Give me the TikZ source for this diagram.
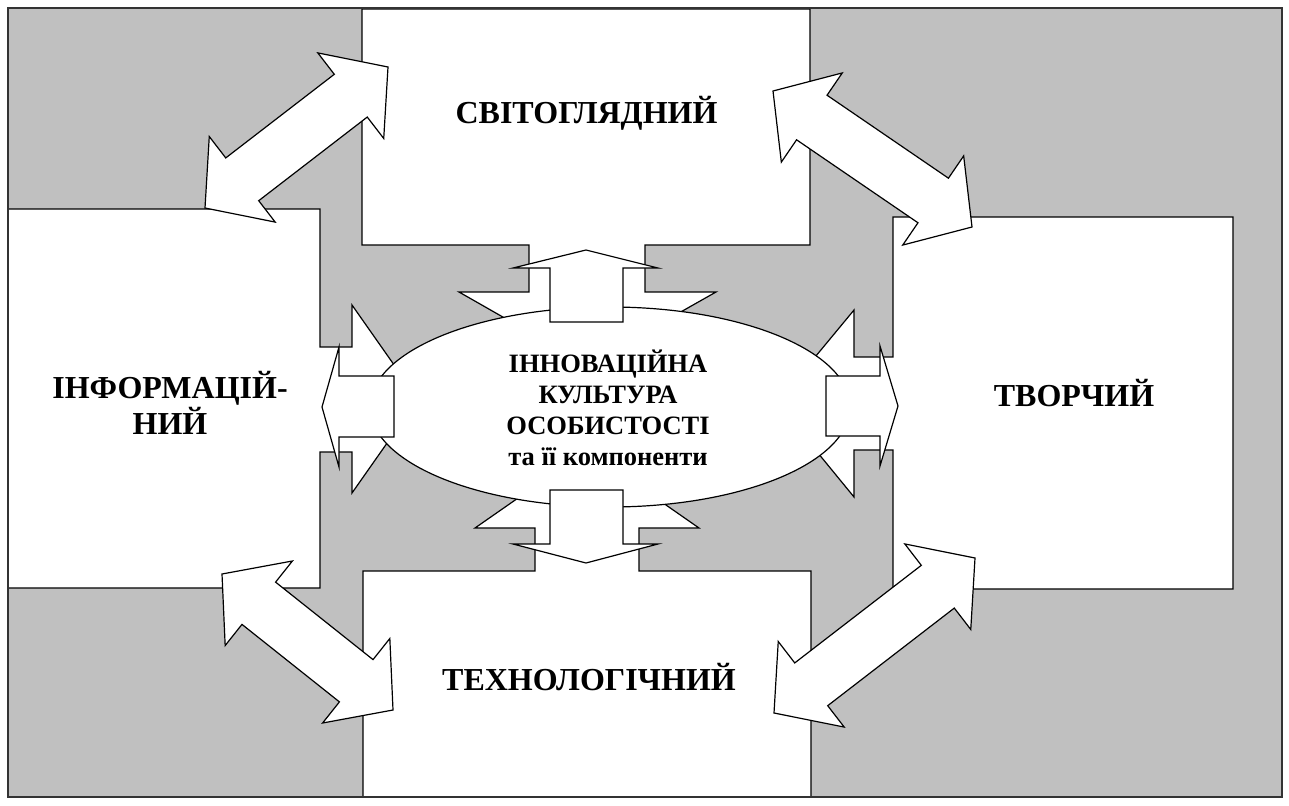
\documentclass[tikz,border=0pt]{standalone}
\usepackage{fontspec}
\setmainfont{Liberation Serif}
\usetikzlibrary{calc,shapes.geometric}
\definecolor{bggray}{RGB}{192,192,192}
\tikzset{
  boxshape/.style={draw=black,fill=white,line width=1.2pt,line join=miter},
  smallarr/.style={draw=black,fill=white,line width=1.2pt,line join=miter},
  bigarr/.style={draw=black,fill=white,line width=1.2pt,line join=miter},
  boxlabel/.style={font=\bfseries\fontsize{32}{36}\selectfont,align=center,inner sep=0pt},
  centrelabel/.style={font=\bfseries\fontsize{26.5}{31}\selectfont,align=center,inner sep=0pt}
}
\newcommand{\dblarr}[2]{%
  \coordinate (hA) at ($(#1)!47pt!(#2)$);
  \coordinate (hB) at ($(#2)!47pt!(#1)$);
  \draw[bigarr] (#1) -- ($(hA)!54pt!90:(#1)$) -- ($(hA)!27pt!90:(#1)$)
     -- ($(hB)!27pt!-90:(#2)$) -- ($(hB)!54pt!-90:(#2)$) -- (#2)
     -- ($(hB)!54pt!90:(#2)$) -- ($(hB)!27pt!90:(#2)$)
     -- ($(hA)!27pt!-90:(#1)$) -- ($(hA)!54pt!-90:(#1)$) -- cycle;}
\begin{document}
\begin{tikzpicture}[x=1pt,y=-1pt]
\useasboundingbox (0,0) rectangle (1289,805);
% background
\fill[bggray] (8,8) rectangle (1282,797);
% top box (with arrow towards centre)
\draw[boxshape] (362,9) -- (810,9) -- (810,245) -- (645,245) -- (645,292) -- (716,292)
   -- (587,365) -- (459,292) -- (529,292) -- (529,245) -- (362,245) -- cycle;
% bottom box
\draw[boxshape] (363,797) -- (363,571) -- (535,571) -- (535,528) -- (475,528) -- (587,450)
   -- (699,528) -- (639,528) -- (639,571) -- (811,571) -- (811,797) -- cycle;
% left box
\draw[boxshape] (8,209) -- (320,209) -- (320,347) -- (352,347) -- (352,305) -- (418,399)
   -- (352,493) -- (352,452) -- (320,452) -- (320,588) -- (8,588) -- cycle;
% right box
\draw[boxshape] (1233,217) -- (893,217) -- (893,357) -- (854,357) -- (854,310) -- (777,403)
   -- (854,497) -- (854,450) -- (893,450) -- (893,589) -- (1233,589) -- cycle;
% centre ellipse
\node[ellipse,draw=black,fill=white,line width=1.2pt,minimum width=480pt,minimum height=200pt,inner sep=0pt] (centre) at (610,407) {};
% small arrows from the centre
\draw[smallarr] (550,322) -- (550,268) -- (513,268) -- (586,250) -- (658,268) -- (623,268) -- (623,322) -- cycle;
\draw[smallarr] (550,490) -- (550,544) -- (513,544) -- (586,563) -- (658,544) -- (623,544) -- (623,490) -- cycle;
\draw[smallarr] (394,376) -- (339,376) -- (339,347) -- (322,407) -- (339,467) -- (339,437) -- (394,437) -- cycle;
\draw[smallarr] (826,376) -- (880,376) -- (880,346) -- (898,406) -- (880,466) -- (880,436) -- (826,436) -- cycle;
% end points of the diagonal double arrows
\coordinate (tlA) at (388,67);  \coordinate (tlB) at (205,208);
\coordinate (trA) at (773,91);  \coordinate (trB) at (972,227);
\coordinate (blA) at (222,574); \coordinate (blB) at (393,710);
\coordinate (brA) at (975,558); \coordinate (brB) at (774,713);
\dblarr{tlA}{tlB}
\dblarr{trA}{trB}
\dblarr{blA}{blB}
\dblarr{brA}{brB}
% frame
\draw[black!80,line width=1.8pt] (8,8) rectangle (1282,797);
% labels
\node[boxlabel] (svit) at (586.5,113) {СВІТОГЛЯДНИЙ};
\node[boxlabel] (info) at (170,403) {ІНФОРМАЦІЙ-\\НИЙ};
\node[boxlabel] (tvor) at (1074,393) {ТВОРЧИЙ};
\node[boxlabel] (tekh) at (589,677) {ТЕХНОЛОГІЧНИЙ};
\node[centrelabel] (cult) at (608,408) {ІННОВАЦІЙНА\\КУЛЬТУРА\\ОСОБИСТОСТІ\\та її компоненти};
\end{tikzpicture}
\end{document}
